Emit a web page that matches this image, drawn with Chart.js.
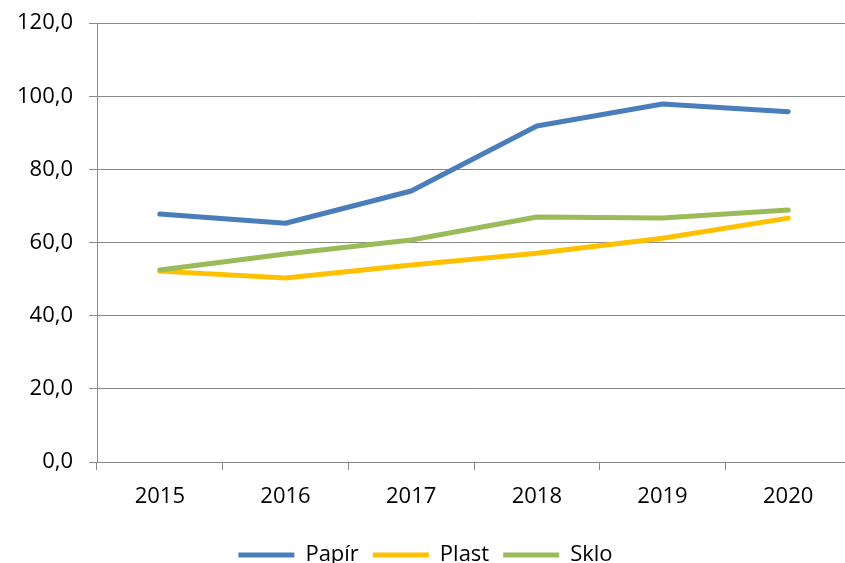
<!DOCTYPE html>
<html>
<head>
<meta charset="utf-8">
<script src="https://cdn.jsdelivr.net/npm/chart.js@4"></script>
<style>
  html, body { margin: 0; padding: 0; background: #fff; overflow: hidden; }
  #wrap { width: 845px; height: 563px; overflow: hidden; }
  #box { width: 881px; height: 582px; margin-top: -6px; }
</style>
</head>
<body>
<div id="wrap"><div id="box"><canvas id="chart"></canvas></div></div>
<script>
// Data
const years = ['2015', '2016', '2017', '2018', '2019', '2020'];
const papir = [67.8, 65.3, 74.1, 91.9, 97.9, 95.8];
const plast = [52.2, 50.3, 53.9, 57.1, 61.2, 66.7];
const sklo = [52.5, 56.9, 60.7, 67.0, 66.7, 68.9];
const yTicks = [0, 20, 40, 60, 80, 100, 120];

const grey = '#898989';
const font = { family: '"Open Sans", sans-serif', size: 22 };

function series(label, data, color, order) {
  return {
    label: label,
    data: data,
    borderColor: color,
    backgroundColor: color,
    borderWidth: 5,
    borderCapStyle: 'round',
    borderJoinStyle: 'round',
    pointRadius: 0,
    tension: 0,
    order: order
  };
}

const ctx = document.getElementById('chart').getContext('2d');
new Chart(ctx, {
  type: 'line',
  data: {
    labels: years,
    datasets: [
      series('Papír', papir, '#4a7ebb', 3),
      series('Plast', plast, '#ffc000', 2),
      series('Sklo', sklo, '#9bbb59', 1)
    ]
  },
  options: {
    responsive: true,
    maintainAspectRatio: false,
    animation: false,
    layout: { padding: { top: 17, right: 30, left: 0, bottom: 0 } },
    plugins: {
      tooltip: { enabled: false },
      legend: {
        position: 'bottom',
        labels: {
          font: font,
          color: '#000',
          usePointStyle: true,
          pointStyle: 'line',
          pointStyleWidth: 56,
          padding: 14,
          sort: (a, b) => a.datasetIndex - b.datasetIndex
        }
      }
    },
    scales: {
      x: {
        offset: true,
        grid: { offset: true, drawOnChartArea: false, color: grey, tickLength: 8 },
        border: { color: grey },
        ticks: { font: font, color: '#000', padding: 14, maxRotation: 0 },
        afterFit: s => { s.height = 68; }
      },
      y: {
        min: 0,
        max: 120,
        afterBuildTicks: s => { s.ticks = yTicks.map(v => ({ value: v })); },
        grid: { color: grey, tickLength: 8 },
        border: { color: grey },
        ticks: {
          font: font,
          color: '#000',
          padding: 16,
          callback: v => v.toFixed(1).replace('.', ',')
        },
        afterFit: s => { s.width = 97; }
      }
    }
  }
});
</script>
</body>
</html>
